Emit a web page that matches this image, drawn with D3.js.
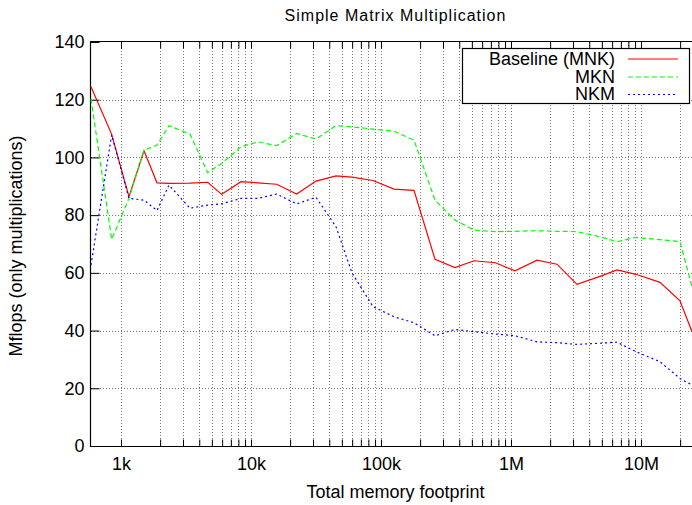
<!DOCTYPE html>
<html>
<head>
<meta charset="utf-8">
<script src="https://cdn.jsdelivr.net/npm/d3@7"></script>
<style>
  body { margin: 0; background: #fff; }
  svg { display: block; font-family: "Liberation Sans", Arial, sans-serif; }
  .grid line { stroke: #777; stroke-dasharray: 1,2; }
</style>
</head>
<body>
<div id="chart"></div>
<script>
// total memory footprint (bytes) for each run
const footprint = [588, 848, 1152, 1503, 1892, 2340, 3395, 4644, 5950, 8380, 11320, 15760,
  22460, 31620, 45060, 59830, 86790, 125900, 179400, 260300, 370900, 519300, 760000,
  1073000, 1585000, 2259000, 3219000, 4837000, 6537000, 9152000, 14000000, 19950000, 24680000];

// Mflops per loop order
const baseline = [124.5, 108, 86.4, 102.3, 91.2, 91, 91.1, 91.4, 87.2, 91.6, 91.2, 90.7,
  87.3, 91.8, 93.6, 93.2, 92, 89, 88.6, 64.7, 61.8, 64.2, 63.5,
  60.7, 64.4, 63, 56, 58.8, 61, 59.5, 56.7, 50.3, 39.6];
const mkn = [120.4, 71.6, 85.8, 102.5, 104.3, 111, 108.1, 94.7, 97.9, 103.7, 105.4, 104.1,
  108.3, 106.4, 111, 110.6, 109.8, 109.1, 106, 85.2, 78.3, 74.8, 74.3,
  74.4, 74.6, 74.4, 74.3, 72.5, 70.8, 72.3, 71.5, 70.8, 55.2];
const nkm = [62.7, 107.8, 85.8, 85.2, 81.6, 90.4, 82.4, 83.5, 83.9, 85.8, 85.8, 87.3,
  83.9, 86.2, 76, 60, 48.3, 44.8, 42.7, 38.2, 40.4, 39.6, 38.8,
  38.2, 36.1, 35.8, 35.2, 35.6, 36, 32.7, 29.2, 23.4, 21.1];

const seriesNames = ['Baseline (MNK)', 'MKN', 'NKM'];

// tick labels
const yTicks = [0, 20, 40, 60, 80, 100, 120, 140];
const xMajor = [1e3, 1e4, 1e5, 1e6, 1e7];
const xMajorLabels = ['1k', '10k', '100k', '1M', '10M'];

const width = 692, height = 505;
const margin = { left: 91, right: 692, top: 42, bottom: 446 };

const svg = d3.select('#chart').append('svg')
  .attr('width', width)
  .attr('height', height);

const x = d3.scaleLog().domain([588, 24680000]).range([margin.left, margin.right]);
const y = d3.scaleLinear().domain([0, 140]).range([margin.bottom, margin.top]);

// minor x ticks: 2..9 of each decade from 1k
const xMinor = [];
xMajor.forEach(d => {
  for (let k = 2; k <= 9; k++) {
    if (d * k <= x.domain()[1]) xMinor.push(d * k);
  }
});

// grid
const grid = svg.append('g').attr('class', 'grid');
grid.selectAll('.gx')
  .data(xMajor.concat(xMinor))
  .enter().append('line')
  .attr('x1', d => Math.round(x(d)) + 0.5)
  .attr('x2', d => Math.round(x(d)) + 0.5)
  .attr('y1', margin.top)
  .attr('y2', margin.bottom);
grid.selectAll('.gy')
  .data(yTicks.filter(d => d > 0 && d < 140))
  .enter().append('line')
  .attr('x1', margin.left)
  .attr('x2', margin.right)
  .attr('y1', d => Math.round(y(d)) + 0.5)
  .attr('y2', d => Math.round(y(d)) + 0.5);

// axes, ticks pointing inward
const yAxis = svg.append('g')
  .attr('transform', `translate(${margin.left - 0.5},0)`)
  .call(d3.axisLeft(y).tickValues(yTicks).tickSize(-9).tickPadding(6).tickFormat(d3.format('d')));
yAxis.select('.domain').remove();

const xAxis = svg.append('g')
  .attr('transform', `translate(0,${margin.bottom + 0.5})`)
  .call(d3.axisBottom(x).tickValues(xMajor).tickSize(-7).tickPadding(11)
    .tickFormat((d, i) => xMajorLabels[i]));
xAxis.select('.domain').remove();
svg.append('g')
  .attr('transform', `translate(0,${margin.bottom + 0.5})`)
  .call(d3.axisBottom(x).tickValues(xMinor).tickSize(-7).tickFormat(''))
  .select('.domain').remove();
svg.append('g')
  .attr('transform', `translate(0,${margin.top - 0.5})`)
  .call(d3.axisTop(x).tickValues(xMajor.concat(xMinor)).tickSize(-7).tickFormat(''))
  .select('.domain').remove();

svg.selectAll('.tick text')
  .style('font-size', '18px')
  .style('fill', '#000');
svg.selectAll('.tick line').style('stroke', '#000');

// border (right edge is off the picture)
svg.append('path')
  .attr('d', `M${margin.right},${margin.top - 0.5}H${margin.left - 0.5}V${margin.bottom + 0.5}H${margin.right}`)
  .attr('fill', 'none')
  .attr('stroke', '#000')
  .attr('stroke-width', 1.2);

// lines
const styles = [
  { data: baseline, color: '#ff0000', dash: null },
  { data: mkn, color: '#00ff00', dash: '5,3' },
  { data: nkm, color: '#0000ff', dash: '2,3' }
];
const line = d3.line()
  .x((d, i) => x(footprint[i]))
  .y(d => y(d));

styles.forEach(s => {
  svg.append('path')
    .datum(s.data)
    .attr('d', line)
    .attr('fill', 'none')
    .attr('stroke', s.color)
    .attr('stroke-width', 1.2)
    .attr('stroke-dasharray', s.dash);
});

// legend
const legend = svg.append('g');
legend.append('rect')
  .attr('x', 462.5).attr('y', 48.5)
  .attr('width', 227).attr('height', 55)
  .attr('fill', '#fff').attr('stroke', '#000').attr('stroke-width', 1.2);
const legY = [58.5, 76.5, 94];
styles.forEach((s, i) => {
  legend.append('text')
    .attr('x', 615).attr('y', legY[i]).attr('dy', '0.35em')
    .attr('text-anchor', 'end')
    .style('font-size', '18px')
    .text(seriesNames[i]);
  legend.append('line')
    .attr('x1', 628).attr('x2', 678)
    .attr('y1', legY[i] + 0.5).attr('y2', legY[i] + 0.5)
    .attr('stroke', s.color).attr('stroke-width', 1.2)
    .attr('stroke-dasharray', s.dash);
});

// titles
svg.append('text')
  .attr('x', 395.5).attr('y', 21)
  .attr('text-anchor', 'middle')
  .style('font-size', '16px').style('letter-spacing', '1px')
  .text('Simple Matrix Multiplication');
svg.append('text')
  .attr('x', 395.5).attr('y', 498)
  .attr('text-anchor', 'middle')
  .style('font-size', '18px')
  .text('Total memory footprint');
svg.append('text')
  .attr('transform', 'translate(22,246) rotate(-90)')
  .attr('text-anchor', 'middle')
  .style('font-size', '18px')
  .text('Mflops (only multiplications)');
</script>
</body>
</html>
